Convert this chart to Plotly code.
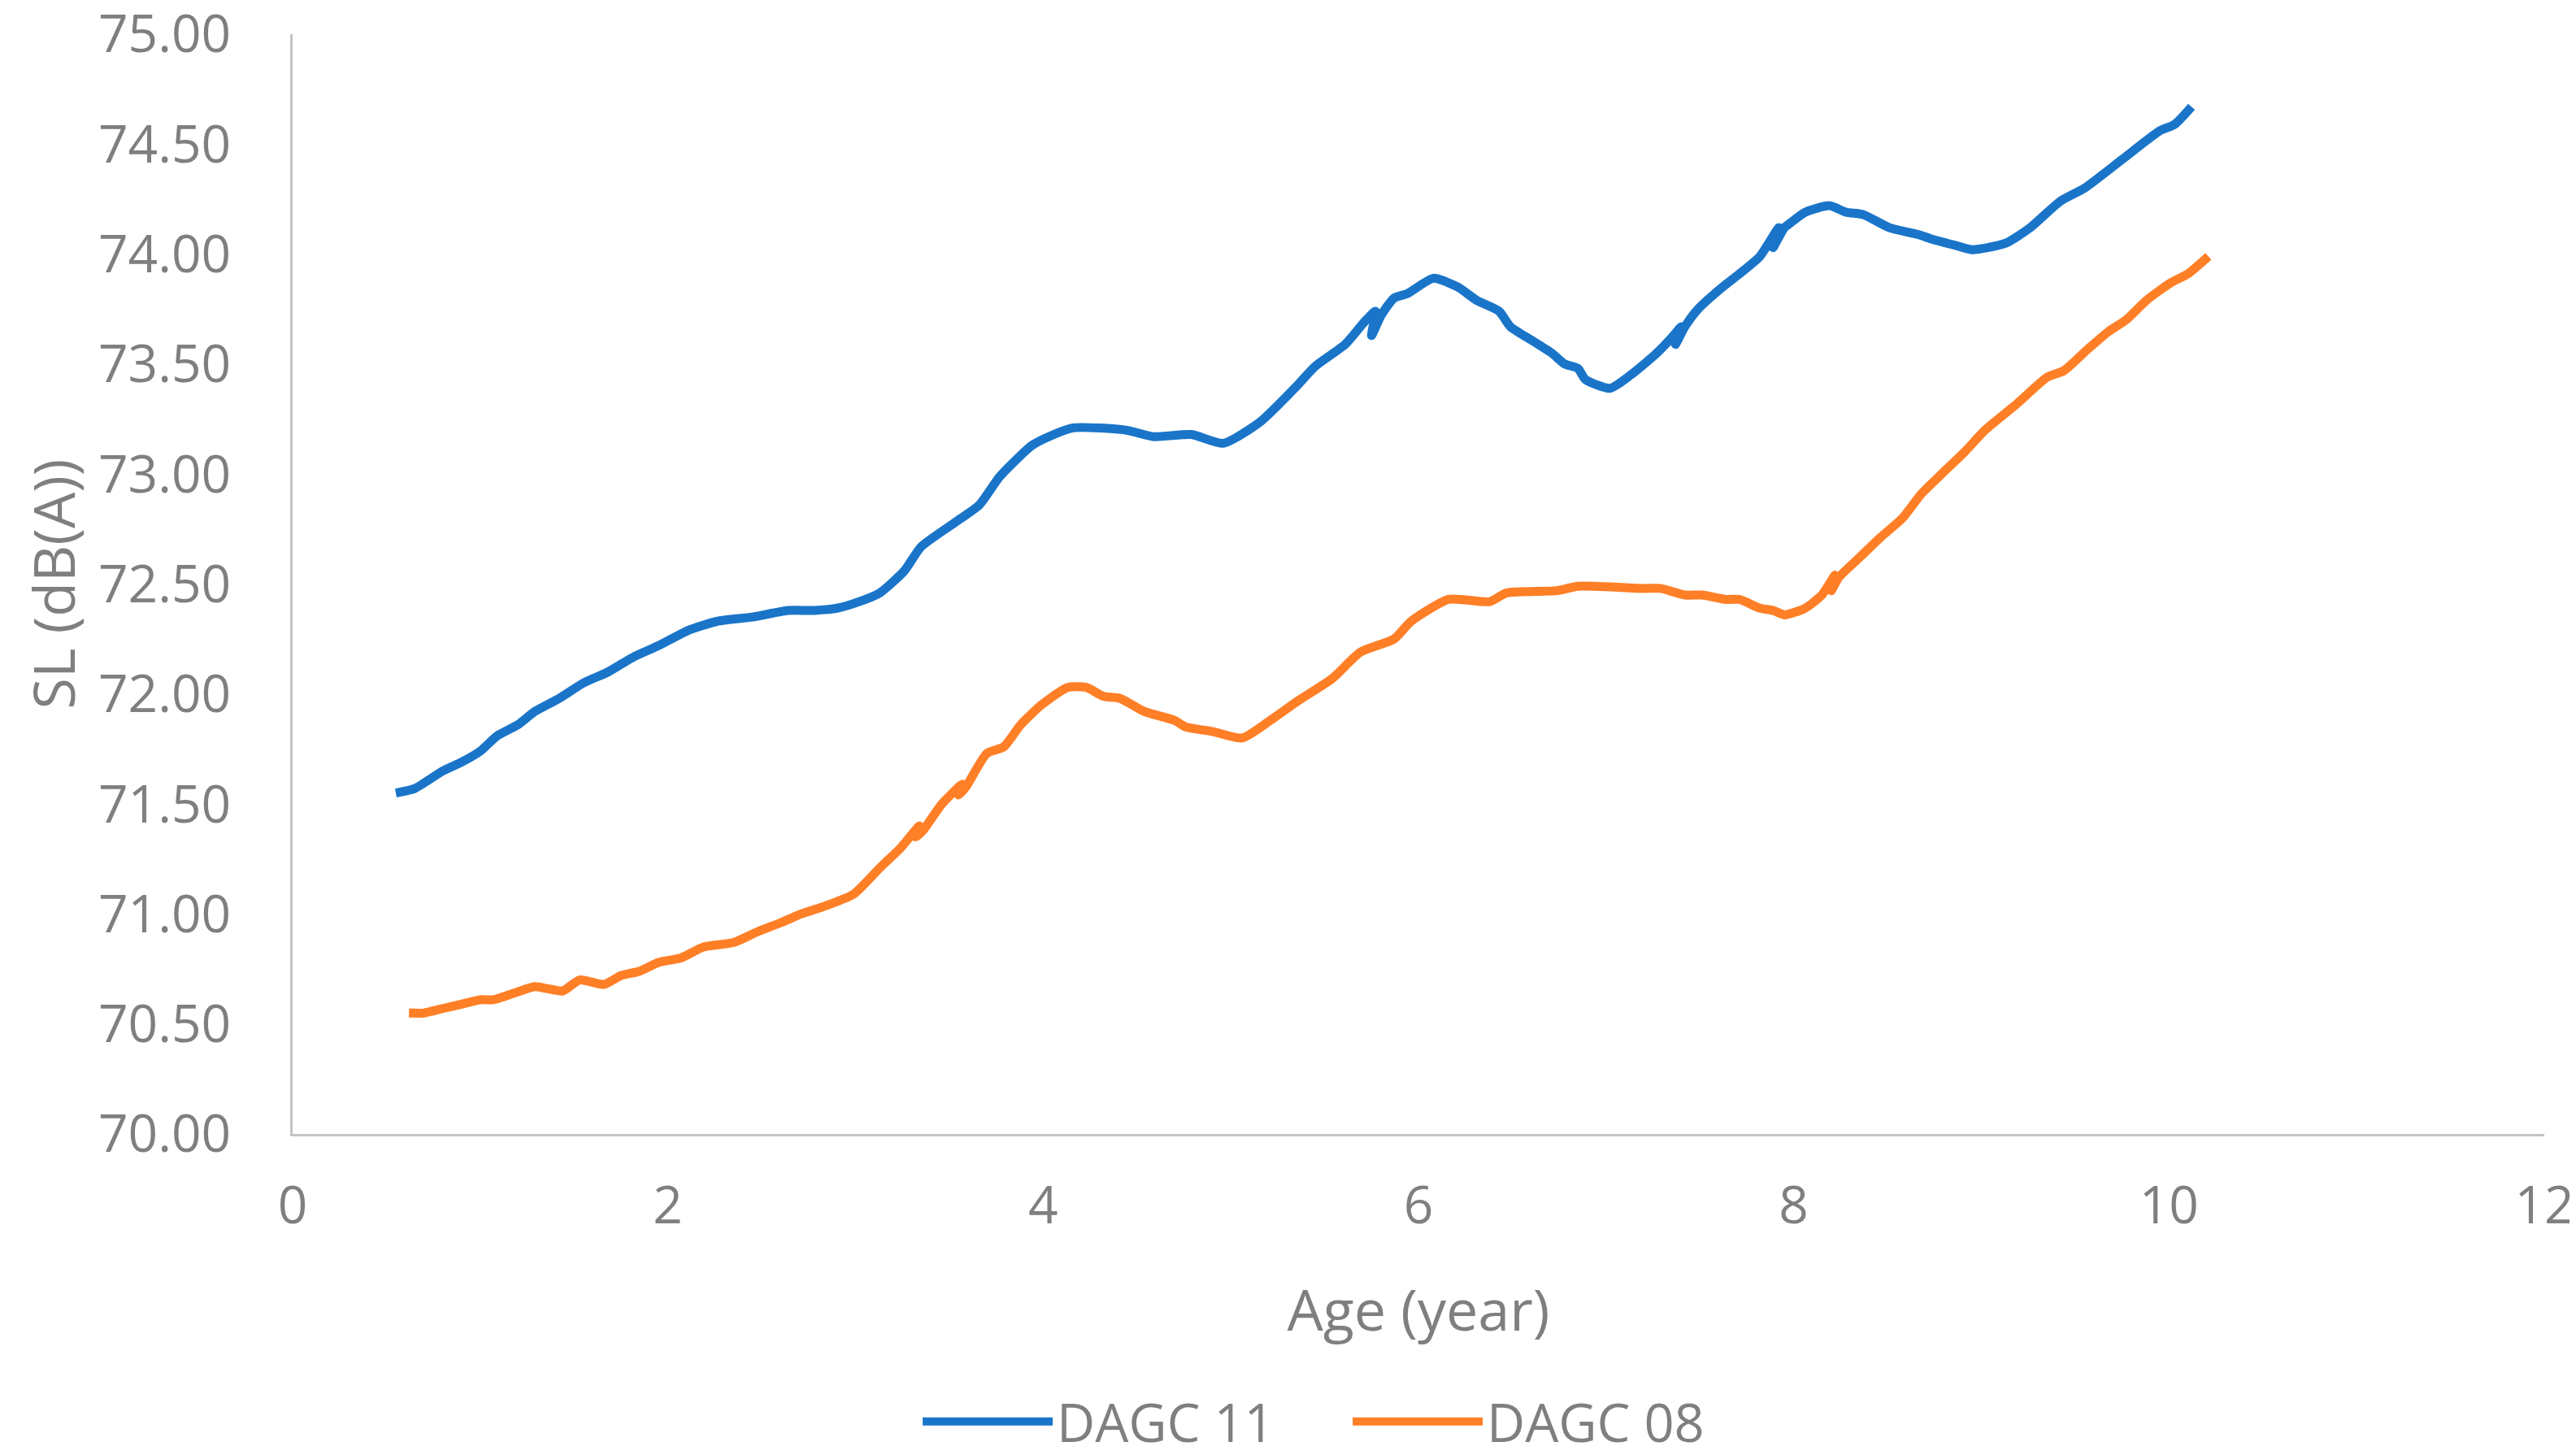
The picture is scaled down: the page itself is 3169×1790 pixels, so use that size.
import plotly.graph_objects as go

# DAGC 11 (blue)
age_11 = [0.55, 0.65, 0.80, 0.90, 1.00, 1.09, 1.20, 1.29, 1.42, 1.55, 1.68, 1.82, 1.95, 2.11,
          2.26, 2.45, 2.64, 2.78, 2.90, 3.02, 3.13, 3.26, 3.35, 3.53, 3.66, 3.77, 3.94, 4.03,
          4.16, 4.44, 4.59, 4.79, 4.96, 5.16, 5.34, 5.45, 5.61, 5.71, 5.77, 5.75, 5.80, 5.87,
          5.94, 6.08, 6.21, 6.31, 6.43, 6.49, 6.60, 6.71, 6.78, 6.85, 6.89, 7.02, 7.13, 7.27,
          7.36, 7.40, 7.37, 7.42, 7.49, 7.62, 7.71, 7.82, 7.92, 7.89, 7.95, 7.98, 8.06, 8.19,
          8.28, 8.37, 8.51, 8.66, 8.73, 8.86, 8.95, 9.13, 9.26, 9.42, 9.55, 9.75, 9.95, 10.03,
          10.12]
sl_11 = [71.55, 71.57, 71.65, 71.69, 71.74, 71.81, 71.86, 71.92, 71.98, 72.05, 72.10, 72.17, 72.22, 72.29,
         72.33, 72.35, 72.38, 72.38, 72.39, 72.42, 72.46, 72.56, 72.67, 72.78, 72.86, 72.99, 73.13, 73.17,
         73.21, 73.20, 73.17, 73.18, 73.14, 73.24, 73.39, 73.49, 73.59, 73.69, 73.74, 73.63, 73.72, 73.80,
         73.82, 73.89, 73.85, 73.79, 73.74, 73.67, 73.61, 73.55, 73.50, 73.48, 73.43, 73.39, 73.45, 73.55,
         73.63, 73.67, 73.59, 73.67, 73.75, 73.85, 73.91, 73.99, 74.12, 74.03, 74.12, 74.14, 74.19, 74.22,
         74.19, 74.18, 74.12, 74.09, 74.07, 74.04, 74.02, 74.05, 74.12, 74.24, 74.30, 74.43, 74.56, 74.59,
         74.67]

# DAGC 08 (orange)
age_08 = [0.62, 0.70, 0.80, 0.90, 1.00, 1.07, 1.18, 1.29, 1.36, 1.44, 1.53, 1.66, 1.75, 1.85,
          1.95, 2.07, 2.19, 2.35, 2.48, 2.60, 2.71, 2.85, 2.99, 3.13, 3.24, 3.34, 3.32, 3.36,
          3.46, 3.57, 3.55, 3.59, 3.70, 3.79, 3.88, 3.99, 4.13, 4.23, 4.32, 4.41, 4.54, 4.70,
          4.76, 4.90, 5.06, 5.21, 5.36, 5.54, 5.69, 5.87, 5.96, 6.16, 6.38, 6.47, 6.74, 6.85,
          7.20, 7.29, 7.42, 7.51, 7.64, 7.71, 7.82, 7.89, 7.95, 8.06, 8.15, 8.22, 8.20, 8.24,
          8.35, 8.46, 8.58, 8.68, 8.80, 8.91, 9.02, 9.19, 9.35, 9.44, 9.57, 9.68, 9.77, 9.88,
          10.01, 10.10, 10.21]
sl_08 = [70.55, 70.55, 70.57, 70.59, 70.61, 70.61, 70.64, 70.67, 70.66, 70.65, 70.70, 70.68, 70.72, 70.74,
         70.78, 70.80, 70.85, 70.87, 70.92, 70.96, 71.00, 71.04, 71.09, 71.21, 71.30, 71.40, 71.35, 71.38,
         71.50, 71.59, 71.54, 71.58, 71.73, 71.76, 71.86, 71.95, 72.03, 72.03, 71.99, 71.98, 71.92, 71.88,
         71.85, 71.83, 71.80, 71.88, 71.97, 72.07, 72.19, 72.25, 72.33, 72.43, 72.42, 72.46, 72.47, 72.49,
         72.48, 72.48, 72.45, 72.45, 72.43, 72.43, 72.39, 72.38, 72.36, 72.39, 72.45, 72.54, 72.47, 72.53,
         72.62, 72.71, 72.80, 72.91, 73.01, 73.10, 73.20, 73.32, 73.44, 73.47, 73.57, 73.65, 73.70, 73.79,
         73.87, 73.91, 73.99]

series_names = ["DAGC 11", "DAGC 08"]
x_ticks = [0, 2, 4, 6, 8, 10, 12]
y_ticks = [70.0, 70.5, 71.0, 71.5, 72.0, 72.5, 73.0, 73.5, 74.0, 74.5, 75.0]

BLUE = "#1a75c9"
ORANGE = "#ff7f27"
GREY = "#7f7f7f"
FONT = "Open Sans"

fig = go.Figure()
fig.add_trace(go.Scatter(x=age_11, y=sl_11, mode="lines", name=series_names[0],
                         line=dict(color=BLUE, width=11, shape="spline", smoothing=0.6)))
fig.add_trace(go.Scatter(x=age_08, y=sl_08, mode="lines", name=series_names[1],
                         line=dict(color=ORANGE, width=11, shape="spline", smoothing=0.6)))

fig.update_layout(
    width=3169, height=1790,
    paper_bgcolor="white", plot_bgcolor="white",
    margin=dict(l=352, r=47, t=34, b=403, autoexpand=False),
    font=dict(family=FONT, color=GREY, size=64),
    showlegend=True,
    legend=dict(orientation="h", xref="container", yref="container",
                x=0.521, xanchor="center", y=0.0, yanchor="bottom",
                font=dict(size=65, color=GREY), itemwidth=160,
                entrywidth=354, entrywidthmode="pixels",
                traceorder="normal"),
)
fig.update_xaxes(
    range=[0, 12], tickvals=x_ticks, ticktext=[str(v) for v in x_ticks],
    showgrid=False, zeroline=False, showline=True, linecolor="#c4c4c4", linewidth=3,
    ticks="", ticklabelstandoff=30, ticklabeloverflow="allow", automargin=False,
    tickfont=dict(size=64, color=GREY, family=FONT),
    title=dict(text="Age (year)", font=dict(size=70, color=GREY, family=FONT), standoff=66),
)
fig.update_yaxes(
    range=[70, 75], tickvals=y_ticks, ticktext=[f"{v:.2f}" for v in y_ticks],
    showgrid=False, zeroline=False, showline=True, linecolor="#c4c4c4", linewidth=3,
    ticks="", ticklabelstandoff=60, ticklabeloverflow="allow", automargin=False,
    tickfont=dict(size=64, color=GREY, family=FONT),
    title=dict(text="SL (dB(A))", font=dict(size=70, color=GREY, family=FONT), standoff=6),
)

fig.write_html("out.html")
